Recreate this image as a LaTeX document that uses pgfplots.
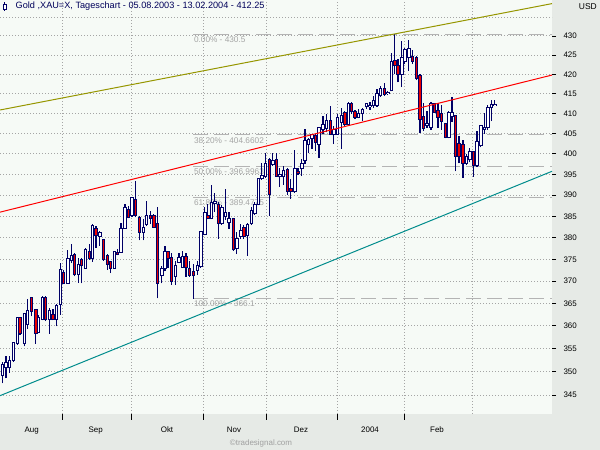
\documentclass[border=0pt]{standalone}
\usepackage{pgfplots}
\pgfplotsset{compat=1.18}
\usepackage{pgfplotstable}
\usepackage{fontspec}
\setmainfont{Liberation Sans}
\definecolor{outerbg}{RGB}{230,234,230}
\definecolor{plotbg}{RGB}{246,250,246}
\definecolor{gridc}{RGB}{165,165,165}
\definecolor{fibline}{RGB}{180,180,180}
\definecolor{fibtext}{RGB}{165,165,165}
\definecolor{candle}{RGB}{0,0,102}
\definecolor{candlered}{RGB}{235,0,0}
\definecolor{oliveline}{RGB}{150,150,0}
\definecolor{redline}{RGB}{255,0,0}
\definecolor{tealline}{RGB}{0,140,140}
\definecolor{titlecol}{RGB}{0,0,90}
\definecolor{copyc}{RGB}{160,160,160}

% x = horizontal position (trading day slot), O H L C in USD
\pgfplotstableread{
x O H L C
2.3 349.3 352.2 347.5 351.6
6.0 351.0 353.3 348.6 352.0
9.3 350.9 353.3 349.8 352.5
13.3 352.4 356.5 352.2 356.3
17.3 356.1 362.0 355.8 361.8
24.3 356.1 362.9 355.5 362.7
27.3 360.3 365.9 359.3 363.5
38.3 358.5 362.5 358.4 361.8
42.3 361.5 366.6 361.2 366.3
49.3 361.5 364.0 358.2 363.3
56.3 361.4 364.8 359.9 364.5
60.5 364.8 374.1 362.5 372.6
67.7 369.6 377.1 369.5 375.3
71.3 374.7 378.6 374.1 375.8
78.3 371.5 375.3 369.6 373.8
85.3 373.0 377.5 372.8 377.1
92.3 375.1 383.1 374.5 382.7
99.7 380.4 381.6 378.0 381.2
114.3 373.0 377.0 372.8 376.7
121.0 376.7 383.5 376.5 382.0
125.0 382.3 388.0 382.2 387.0
132.0 385.1 389.5 384.8 389.4
143.3 381.2 384.3 379.4 382.3
146.3 383.1 388.6 382.7 385.1
161.7 371.3 373.4 369.5 372.8
165.0 373.0 378.0 372.2 376.7
175.3 371.1 374.7 369.2 373.5
179.0 374.3 376.5 374.2 375.4
182.3 373.2 376.9 373.0 375.7
197.3 372.5 374.6 371.4 373.5
200.7 373.3 381.5 373.0 381.3
204.7 380.7 387.2 380.5 385.9
211.3 384.5 392.5 384.3 388.2
214.7 388.0 390.7 386.0 388.5
221.7 383.3 387.6 382.9 387.0
225.3 385.0 391.6 384.2 386.0
229.0 383.5 386.0 382.1 384.5
236.7 377.6 381.3 376.2 379.8
240.7 380.2 383.3 379.8 381.7
247.3 380.5 383.5 375.8 383.0
251.3 383.3 387.2 382.9 386.4
254.7 385.6 388.4 385.4 387.8
258.3 387.9 394.1 387.6 394.0
261.7 394.0 397.7 393.8 394.7
265.3 394.6 400.2 394.2 397.6
272.9 397.5 400.3 397.1 398.3
279.7 394.4 396.6 392.1 395.0
283.3 394.4 397.1 392.5 396.0
294.7 390.9 400.9 390.7 396.5
301.7 396.5 398.7 394.6 397.6
305.0 398.3 406.1 397.6 403.2
308.3 402.2 403.9 400.1 403.4
312.0 403.9 405.0 401.2 404.7
319.0 402.4 406.7 399.1 406.5
323.0 406.1 409.4 404.9 407.2
326.3 406.4 409.8 405.3 408.3
333.7 404.7 406.9 402.4 406.1
337.3 404.9 410.0 404.7 409.0
341.3 407.8 411.5 401.2 409.4
348.5 407.3 412.8 407.1 412.6
358.3 409.1 411.1 408.8 410.0
362.3 410.0 411.4 408.1 410.9
366.3 411.7 412.6 411.1 412.4
370.0 411.7 413.0 411.0 412.1
373.3 412.0 414.5 411.5 413.2
377.0 412.0 416.2 411.7 415.0
380.3 414.5 417.1 414.3 416.2
387.7 415.0 415.8 414.6 415.4
391.3 415.8 425.6 415.6 423.4
401.7 420.0 428.6 416.8 424.3
404.7 423.3 426.9 422.6 426.4
408.7 424.3 429.0 420.9 426.7
427.0 407.1 410.6 406.5 407.4
431.0 406.6 412.9 406.0 412.4
448.7 404.1 410.6 403.8 410.2
452.0 409.3 414.2 408.0 410.2
466.3 397.7 400.0 397.2 399.4
469.7 398.6 401.5 398.0 400.6
477.0 397.3 405.6 396.9 403.1
480.7 402.0 407.1 401.6 406.9
484.3 406.1 410.2 405.0 406.6
487.7 406.5 412.1 406.0 411.6
491.3 411.6 413.5 408.1 412.3
494.7 412.1 413.3 411.8 412.25
}\upcandles

\pgfplotstableread{
x O H L C
20.0 361.8 362.0 358.0 358.2
31.3 366.3 366.5 362.1 363.3
35.7 363.6 363.8 356.1 358.4
45.3 366.3 366.6 361.0 361.4
53.0 362.5 363.8 361.2 361.4
63.5 372.0 372.5 369.3 369.6
74.3 376.0 376.4 371.1 371.5
81.5 375.0 375.3 369.5 373.5
89.3 376.7 378.5 374.9 375.2
96.0 382.2 382.7 377.7 380.5
103.3 379.6 379.8 374.7 374.9
107.3 375.9 376.1 372.6 373.9
110.3 374.4 374.7 371.8 373.0
117.3 376.6 377.3 375.9 376.1
128.3 386.6 387.4 384.5 384.7
135.3 389.0 393.4 384.8 385.1
139.3 384.8 385.1 379.4 381.2
150.3 385.1 386.3 383.1 384.5
153.7 385.1 385.5 382.3 382.5
157.3 383.3 387.2 366.1 369.5
168.0 376.7 377.0 373.0 375.2
171.3 375.5 376.5 369.2 370.0
186.0 375.7 376.5 371.0 373.2
189.3 372.8 374.6 371.0 371.4
193.3 372.2 373.9 366.0 371.2
207.7 385.1 388.0 384.3 384.5
218.3 387.8 388.4 379.8 383.3
233.3 384.5 384.6 377.0 377.2
243.7 382.3 382.9 379.8 380.2
269.3 398.7 399.0 385.1 390.2
276.3 398.7 400.3 394.4 394.6
287.3 396.2 396.5 390.2 391.0
290.7 391.7 394.0 389.2 391.0
298.0 395.8 396.5 395.0 395.2
315.3 404.5 404.9 400.8 402.8
330.3 408.3 411.9 404.7 404.9
344.7 410.2 410.6 406.9 407.3
351.3 412.6 412.9 410.0 410.5
355.0 410.5 410.9 408.6 409.1
384.3 416.2 417.7 414.5 414.9
394.7 423.6 430.5 420.0 422.2
398.0 422.2 423.9 417.9 420.0
412.3 424.5 426.4 422.6 423.4
416.3 424.3 424.7 418.5 419.0
420.0 419.6 420.0 405.2 408.5
423.3 409.2 412.7 405.6 406.3
434.5 412.4 412.7 410.2 410.4
438.0 410.8 412.7 406.5 409.1
441.5 409.9 412.1 406.0 408.1
445.3 407.4 407.7 403.8 404.1
455.3 409.4 409.6 395.8 399.4
459.0 402.5 404.4 397.7 399.4
463.0 402.3 403.5 394.2 397.7
473.3 400.6 400.8 394.4 397.3
}\downcandles

\begin{document}
\begin{tikzpicture}[x=1bp,y=1bp]
\fill[outerbg] (0,0) rectangle (600,-450);
\begin{axis}[
  at={(0bp,0bp)}, anchor=north west,
  scale only axis, width=552bp, height=414bp,
  xmin=0, xmax=552,
  ymode=log, ymin=341.06, ymax=439.6,
  axis background/.style={fill=plotbg},
  axis line style={draw=none},
  tick align=outside,
  /pgf/number format/assume math mode=true,
  ytick={345,350,355,360,365,370,375,380,385,390,395,400,405,410,415,420,425,430},
  yticklabels={345,350,355,360,365,370,375,380,385,390,395,400,405,410,415,420,425,430},
  ytick pos=right, yticklabel pos=right,
  yticklabel style={font=\fontsize{8}{9}\selectfont, anchor=west, xshift=4bp},
  major tick length=4bp, minor tick length=6bp,
  tick style={black, line width=0.8bp},
  ymajorgrids=true,
  extra y ticks={435}, extra y tick labels={},
  extra y tick style={ymajorgrids=true, major tick length=0pt},
  xtick={31.7,95.7,167,234,301,370,437},
  xticklabels={Aug,Sep,Okt,Nov,Dez,2004,Feb},
  xtick pos=bottom,
  every major x tick/.append style={draw=none},
  xticklabel style={font=\fontsize{8}{9}\selectfont, yshift=-5.5bp},
  minor xtick={62,131,203,266,337,404},
  xminorgrids=true,
  extra x ticks={472}, extra x tick labels={},
  extra x tick style={xmajorgrids=true, major tick length=0pt},
  grid style={gridc, line width=0.9bp, dash pattern=on 0.9bp off 2.1bp},
  minor grid style={gridc, line width=0.9bp, dash pattern=on 0.9bp off 2.1bp},
]
% Fibonacci retracement levels
\addplot[fibline, line width=1bp, dash pattern=on 15bp off 6bp, forget plot]
  coordinates {(193,430.5) (552,430.5)}
  node[pos=0, anchor=north west, text=fibtext, inner sep=0.5bp, yshift=-1.5bp, font=\fontsize{8.3}{9}\selectfont] {0.00\% - 430.5};
\addplot[fibline, line width=1bp, dash pattern=on 15bp off 6bp, forget plot]
  coordinates {(193,404.6602) (552,404.6602)}
  node[pos=0, anchor=north west, text=fibtext, inner sep=0.5bp, yshift=-1.5bp, font=\fontsize{8.3}{9}\selectfont] {38.20\% - 404.6602};
\addplot[fibline, line width=1bp, dash pattern=on 15bp off 6bp, forget plot]
  coordinates {(193,396.9963) (552,396.9963)}
  node[pos=0, anchor=north west, text=fibtext, inner sep=0.5bp, yshift=-1.5bp, font=\fontsize{8.3}{9}\selectfont] {50.00\% - 396.9963};
\addplot[fibline, line width=1bp, dash pattern=on 15bp off 6bp, forget plot]
  coordinates {(193,389.4775) (552,389.4775)}
  node[pos=0, anchor=north west, text=fibtext, inner sep=0.5bp, yshift=-1.5bp, font=\fontsize{8.3}{9}\selectfont] {61.80\% - 389.4775};
\addplot[fibline, line width=1bp, dash pattern=on 15bp off 6bp, forget plot]
  coordinates {(193,366.1) (552,366.1)}
  node[pos=0, anchor=north west, text=fibtext, inner sep=0.5bp, yshift=-1.5bp, font=\fontsize{8.3}{9}\selectfont] {100.00\% - 366.1};

% wicks
\addplot[draw=none, mark=none, forget plot,
  error bars/.cd, y dir=plus, y explicit, error mark=none,
  error bar style={draw=candle, line width=1.1bp}]
  table[x=x, y=L, y error expr={\thisrow{H}-\thisrow{L}}] {\upcandles};
\addplot[draw=none, mark=none, forget plot,
  error bars/.cd, y dir=plus, y explicit, error mark=none,
  error bar style={draw=candle, line width=1.1bp}]
  table[x=x, y=L, y error expr={\thisrow{H}-\thisrow{L}}] {\downcandles};
% body outlines
\addplot[draw=none, mark=none, forget plot,
  error bars/.cd, y dir=plus, y explicit, error mark=none,
  error bar style={draw=candle, line width=3.6bp, shorten <=-0.6bp, shorten >=-0.6bp}]
  table[x=x, y=O, y error expr={\thisrow{C}-\thisrow{O}}] {\upcandles};
\addplot[draw=none, mark=none, forget plot,
  error bars/.cd, y dir=plus, y explicit, error mark=none,
  error bar style={draw=candle, line width=3.6bp, shorten <=-0.6bp, shorten >=-0.6bp}]
  table[x=x, y=C, y error expr={\thisrow{O}-\thisrow{C}}] {\downcandles};
% body fills
\addplot[draw=none, mark=none, forget plot,
  error bars/.cd, y dir=plus, y explicit, error mark=none,
  error bar style={draw=white, line width=1.6bp, shorten <=0.4bp, shorten >=0.4bp}]
  table[x=x, y=O, y error expr={\thisrow{C}-\thisrow{O}}] {\upcandles};
\addplot[draw=none, mark=none, forget plot,
  error bars/.cd, y dir=plus, y explicit, error mark=none,
  error bar style={draw=candlered, line width=1.6bp, shorten <=0.4bp, shorten >=0.4bp}]
  table[x=x, y=C, y error expr={\thisrow{O}-\thisrow{C}}] {\downcandles};

% trend lines
\addplot[oliveline, line width=1bp, forget plot] coordinates {(0,410.9) (552,438.6)};
\addplot[redline, line width=1bp, forget plot] coordinates {(0,386.0) (552,419.8)};
\addplot[tealline, line width=1bp, forget plot] coordinates {(0,344.9) (552,395.8)};
\end{axis}

% title and decorations
\draw[candle, line width=0.8bp] (4.5,-2.5) -- (4.5,-11.5);
\draw[candle, fill=white, line width=0.8bp] (3,-4.5) rectangle (6,-9.5);
\node[anchor=west, text=titlecol, inner sep=0, font=\fontsize{9.2}{10}\selectfont] at (15.5,-6.5)
  {Gold ,XAU=X, Tageschart - 05.08.2003 - 13.02.2004 - 412.25};
\node[anchor=east, inner sep=0, font=\fontsize{8.5}{10}\selectfont] at (597,-7) {USD};
\node[text=copyc, inner sep=0, font=\fontsize{8}{9}\selectfont] at (261,-443.5) {\textcopyright tradesignal.com};
\pgfresetboundingbox
\path[use as bounding box] (0,0) rectangle (600,-450);
\end{tikzpicture}
\end{document}
